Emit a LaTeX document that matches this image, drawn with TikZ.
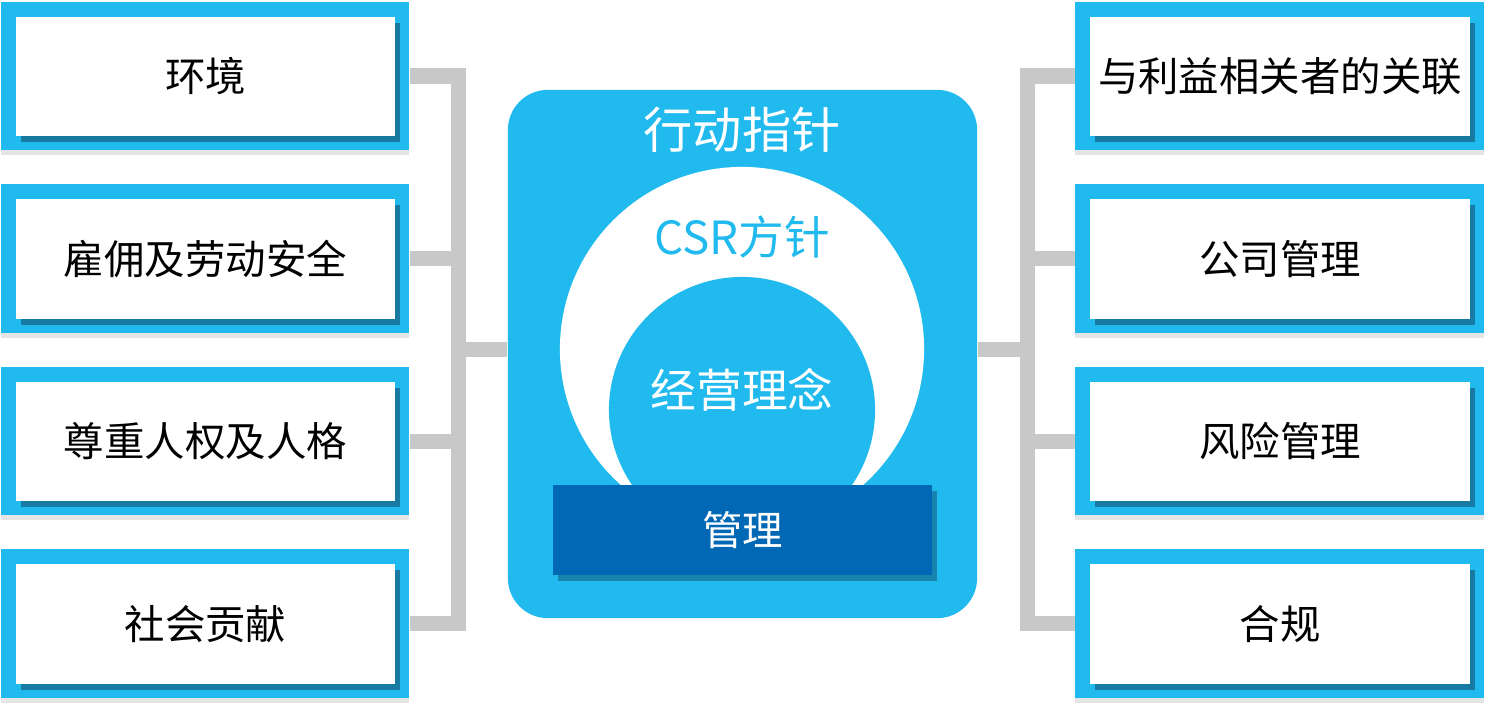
\documentclass[tikz,border=0pt]{standalone}
\usepackage{fontspec}
\setmainfont{Noto Sans CJK SC}
\usetikzlibrary{shadows}
\definecolor{csrblue}{RGB}{32,186,238}
\definecolor{mgmtblue}{RGB}{0,104,180}
\definecolor{linkgray}{RGB}{200,200,200}
\definecolor{shadeblue}{RGB}{18,96,130}
\begin{document}
\begin{tikzpicture}[x=0.01cm, y=-0.01cm,
		frame/.style={fill=csrblue, minimum width=4.08cm, minimum height=1.48cm, inner sep=0pt, drop shadow={shadow xshift=0pt, shadow yshift=-0.05cm, fill=black, opacity=0.1}},
		item/.style={fill=white, minimum width=3.79cm, minimum height=1.19cm, inner sep=0pt, font=\fontsize{11.5pt}{14pt}\selectfont, drop shadow={shadow xshift=0.05cm, shadow yshift=-0.06cm, fill=shadeblue, opacity=0.7}},
		link/.style={linkgray, line width=0.15cm}]
			\useasboundingbox (0,0) rectangle (1500,715);
			\node[fill=csrblue, rounded corners=0.4cm, minimum width=4.69cm, minimum height=5.28cm] (hub) at (742.5,354){};
			\node[fill=white, circle, inner sep=0pt, minimum size=3.64cm] (policy) at (742,349){};
			\node[fill=csrblue, circle, inner sep=0pt, minimum size=2.66cm] (idea) at (742,410){};
			\node[text=white, font=\fontsize{14pt}{16pt}\selectfont] (guide) at (742,130){行动指针};
			\node[text=csrblue, font=\fontsize{13pt}{15pt}\selectfont] (csr) at (742,237){CSR方针};
			\node[text=white, font=\fontsize{13pt}{15pt}\selectfont] (ideatext) at (742,390){经营理念};
			\node[fill=mgmtblue, text=white, minimum width=3.79cm, minimum height=0.9cm, font=\fontsize{11.5pt}{14pt}\selectfont, drop shadow={shadow xshift=0.05cm, shadow yshift=-0.06cm, fill=shadeblue, opacity=0.6}] (mgmt) at (742.5,530){管理};
			\coordinate (lj) at (458,349);
			\coordinate (rj) at (1027,349);
			\node[frame] (Lf1) at (205,76){};
			\node[frame] (Lf2) at (205,258.5){};
			\node[frame] (Lf3) at (205,441){};
			\node[frame] (Lf4) at (205,623.5){};
			\node[frame] (Rf1) at (1279.5,76){};
			\node[frame] (Rf2) at (1279.5,258.5){};
			\node[frame] (Rf3) at (1279.5,441){};
			\node[frame] (Rf4) at (1279.5,623.5){};
			\draw[link] (Lf1.east) -| (lj) |- (Lf4.east);
			\draw[link] (Lf2.east) -- (Lf2.east -| lj);
			\draw[link] (Lf3.east) -- (Lf3.east -| lj);
			\draw[link] (lj) -- (lj -| hub.west);
			\draw[link] (Rf1.west) -| (rj) |- (Rf4.west);
			\draw[link] (Rf2.west) -- (Rf2.west -| rj);
			\draw[link] (Rf3.west) -- (Rf3.west -| rj);
			\draw[link] (rj) -- (rj -| hub.east);
			\node[item] (L1) at (205.5,76.5){环境};
			\node[item] (L2) at (205.5,259){雇佣及劳动安全};
			\node[item] (L3) at (205.5,441.5){尊重人权及人格};
			\node[item] (L4) at (205.5,624){社会贡献};
			\node[item] (R1) at (1280,76.5){与利益相关者的关联};
			\node[item] (R2) at (1280,259){公司管理};
			\node[item] (R3) at (1280,441.5){风险管理};
			\node[item] (R4) at (1280,624){合规};
		\end{tikzpicture}
\end{document}
